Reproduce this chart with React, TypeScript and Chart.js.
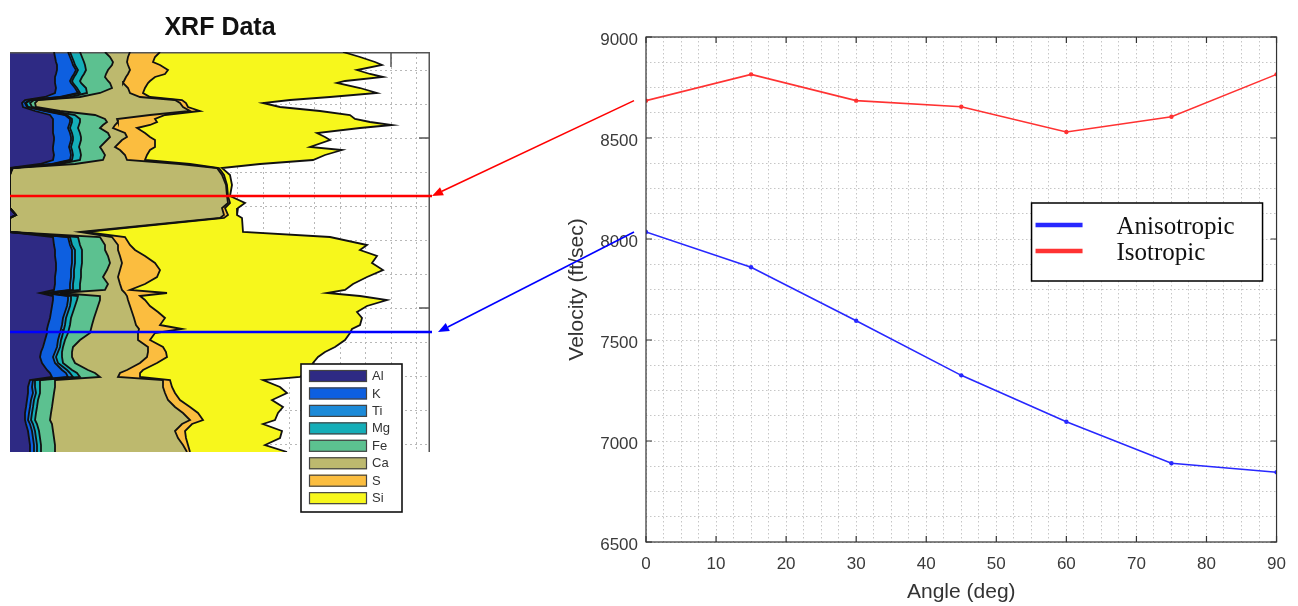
import React, { useEffect, useRef } from 'react';
import { Chart, registerables } from 'chart.js';

Chart.register(...registerables);
Chart.defaults.font.family = "'Liberation Sans', Arial, sans-serif";

// ---------------- XRF data (left panel) ----------------
// depth below top of log (arbitrary units, top = 0)
const depth = [
  0, 5, 10, 13, 18, 22, 25, 29, 31, 36,
  41, 45, 48, 51, 55, 59, 63, 67, 70, 73,
  76, 81, 85, 88, 95, 98, 103, 108, 112, 116,
  123, 133, 144, 151, 156, 163, 166, 180, 185, 193,
  198, 204, 211, 218, 225, 232, 238, 241, 244, 248,
  254, 260, 266, 273, 277, 281, 288, 295, 300, 305,
  311, 318, 321, 325, 328, 335, 341, 348, 355, 361,
  368, 372, 379, 386, 393, 400,
];
const alValues = [
  44, 45, 46, 47, 47, 46, 45, 45, 45, 46,
  45, 35, 15, 12, 13, 25, 40, 43, 43, 43,
  43, 43, 44, 44, 43, 43, 44, 43, 30, 0,
  0, 0, 0, 0, 0, 6, 0, 0, 43, 44,
  45, 45, 46, 46, 45, 45, 44, 30, 43, 43,
  42, 41, 40, 38, 37, 37, 35, 33, 31, 30,
  32, 37, 40, 42, 20, 18, 18, 17, 16, 15,
  15, 16, 18, 19, 20, 20,
];
const kValues = [
  14, 15, 16, 16, 19, 18, 17, 15, 16, 19,
  23, 15, 5, 3, 4, 10, 15, 17, 17, 16,
  15, 17, 17, 17, 16, 17, 17, 17, 12, 1,
  0, 0, 0, 0, 0, 0, 0, 0, 15, 16,
  17, 17, 16, 15, 16, 15, 16, 5, 15, 15,
  15, 14, 13, 14, 14, 13, 13, 14, 14, 13,
  13, 15, 16, 16, 3, 4, 5, 4, 4, 4,
  3, 4, 4, 4, 4, 4,
];
const tiValues = [
  2, 2, 2, 2, 2, 2, 2, 2, 2, 2,
  2, 2, 1, 1, 1, 2, 2, 2, 2, 2,
  2, 2, 2, 2, 2, 2, 2, 2, 2, 0,
  0, 0, 0, 0, 0, 0, 0, 0, 2, 2,
  3, 3, 3, 3, 3, 3, 3, 2, 3, 3,
  3, 3, 3, 3, 3, 3, 3, 3, 3, 3,
  3, 5, 4, 5, 2, 3, 3, 3, 3, 3,
  3, 3, 3, 3, 3, 3,
];
const mgValues = [
  10, 10, 10, 10, 8, 8, 8, 8, 8, 9,
  7, 8, 3, 4, 4, 5, 8, 8, 8, 8,
  8, 8, 8, 8, 8, 8, 8, 8, 6, 1,
  0, 0, 0, 0, 0, 0, 0, 0, 8, 8,
  7, 7, 7, 7, 7, 7, 7, 3, 7, 6,
  5, 5, 5, 5, 5, 5, 4, 3, 4, 6,
  5, 5, 7, 7, 5, 5, 4, 4, 4, 4,
  4, 4, 4, 4, 4, 4,
];
const feValues = [
  25, 28, 29, 27, 22, 22, 23, 28, 29, 26,
  13, 10, 4, 5, 4, 8, 20, 25, 27, 24,
  22, 28, 29, 26, 21, 22, 24, 23, 15, 1,
  0, 0, 0, 0, 0, 0, 0, 0, 22, 25,
  23, 26, 28, 26, 22, 28, 25, 10, 22, 23,
  23, 23, 23, 22, 22, 22, 15, 10, 10, 10,
  12, 16, 18, 20, 15, 15, 14, 15, 15, 15,
  15, 15, 14, 14, 14, 14,
];
const caValues = [
  25, 18, 14, 16, 22, 22, 21, 16, 13, 16,
  30, 60, 137, 145, 147, 130, 55, 12, 11, 12,
  13, 17, 17, 15, 15, 18, 20, 24, 105, 204,
  212, 216, 217, 218, 212, 208, 210, 70, 12, 13,
  13, 12, 12, 13, 15, 12, 17, 65, 27, 28,
  32, 36, 40, 44, 48, 48, 58, 75, 76, 75,
  65, 39, 25, 18, 108, 108, 111, 115, 123, 132,
  140, 130, 122, 124, 128, 132,
];
const sValues = [
  30, 27, 26, 32, 38, 37, 29, 26, 25, 17,
  13, 10, 7, 6, 5, 10, 15, 38, 39, 35,
  24, 20, 23, 33, 40, 30, 22, 18, 10, 2,
  2, 1, 1, 2, 3, 4, 4, 5, 13, 12,
  17, 25, 33, 40, 39, 25, 8, 42, 13, 17,
  20, 26, 31, 24, 43, 17, 12, 15, 18, 20,
  17, 16, 20, 22, 7, 9, 10, 12, 15, 15,
  13, 10, 10, 8, 5, 3,
];
const siValues = [
  183, 205, 222, 222, 189, 205, 228, 195, 189, 215,
  234, 180, 108, 77, 92, 120, 185, 200, 213, 242,
  223, 172, 175, 175, 155, 192, 178, 168, 70, 3,
  6, 5, 2, 15, 13, 9, 18, 158, 205, 237,
  225, 232, 217, 223, 210, 208, 215, 160, 220, 242,
  217, 199, 197, 200, 170, 195, 195, 172, 159, 151,
  156, 167, 165, 160, 93, 108, 112, 92, 93, 80,
  72, 71, 97, 94, 77, 97,
];
const elementNames = ['Al', 'K', 'Ti', 'Mg', 'Fe', 'Ca', 'S', 'Si'];
const elementColors = ['#2e2a84', '#0d5fe0', '#1c8ad8', '#14aeb8', '#5cc190', '#bdb96e', '#fbbd3f', '#f7f71c'];
const elementSeries = [alValues, kValues, tiValues, mgValues, feValues, caValues, sValues, siValues];

const xrfGridX = [228, 253.5, 279, 304.5, 330, 355.5, 381, 406.5];
const xrfGridDepth = [18, 52, 86, 120, 154, 188, 222, 256, 290, 324, 358, 392];
const xrfMajorDepth = [86, 256];
const xrfMajorX = [381];
const markerDepths = [144, 280];
const markerColors = ['#ff0000', '#0000ff'];

// ---------------- Velocity data (right panel) ----------------
const angles = [0, 15, 30, 45, 60, 75, 90];
const anisotropic = [8035, 7860, 7595, 7325, 7095, 6890, 6845];
const isotropic = [8685, 8815, 8685, 8655, 8530, 8605, 8815];
const angleTicks = [0, 10, 20, 30, 40, 50, 60, 70, 80, 90];
const velocityTicks = [6500, 7000, 7500, 8000, 8500, 9000];
const seriesNames = ['Anisotropic', 'Isotropic'];
const seriesColors = ['rgb(40,40,255)', 'rgb(255,50,50)'];

const RIGHT_LEFT = 560;

const xrfPlugin = {
  id: 'xrfDecor',
  beforeDatasetsDraw(chart: any) {
    const { ctx, chartArea: ca, scales } = chart;
    ctx.save();
    ctx.strokeStyle = '#555';
    ctx.lineWidth = 1.5;
    ctx.beginPath();
    ctx.moveTo(ca.left, ca.top + 0.75);
    ctx.lineTo(ca.right, ca.top + 0.75);
    ctx.moveTo(ca.right - 0.75, ca.top);
    ctx.lineTo(ca.right - 0.75, ca.bottom);
    for (const d of xrfMajorDepth) {
      const y = scales.y.getPixelForValue(d);
      ctx.moveTo(ca.right, y);
      ctx.lineTo(ca.right - 11, y);
    }
    for (const v of xrfMajorX) {
      const x = scales.x.getPixelForValue(v);
      ctx.moveTo(x, ca.top);
      ctx.lineTo(x, ca.top + 15);
    }
    ctx.stroke();
    ctx.restore();
  },
  afterDatasetsDraw(chart: any) {
    const { ctx, chartArea: ca, scales } = chart;
    ctx.save();
    markerDepths.forEach((d, i) => {
      const y = scales.y.getPixelForValue(d);
      ctx.strokeStyle = markerColors[i];
      ctx.lineWidth = 2.4;
      ctx.beginPath();
      ctx.moveTo(ca.left, y);
      ctx.lineTo(ca.right + 2, y);
      ctx.stroke();
    });
    ctx.restore();
  },
  afterDraw(chart: any) {
    const { ctx, chartArea: ca } = chart;
    const lx = ca.left + 291;
    const ly = ca.top + 312;
    const lw = 101;
    const lh = 148;
    ctx.save();
    ctx.fillStyle = '#fff';
    ctx.fillRect(lx, ly, lw, lh);
    ctx.strokeStyle = '#111';
    ctx.lineWidth = 1.6;
    ctx.strokeRect(lx, ly, lw, lh);
    chart.data.datasets.forEach((ds: any, i: number) => {
      const sy = ly + 6 + i * 17.45;
      ctx.fillStyle = ds.backgroundColor;
      ctx.fillRect(lx + 8, sy, 58, 12);
      ctx.strokeStyle = '#444';
      ctx.lineWidth = 1.2;
      ctx.strokeRect(lx + 8.5, sy + 0.5, 57, 11);
      ctx.fillStyle = '#333';
      ctx.font = "13px 'Liberation Sans', Arial, sans-serif";
      ctx.textBaseline = 'middle';
      ctx.textAlign = 'left';
      ctx.fillText(ds.label, lx + 71, sy + 6.5);
    });
    ctx.restore();
  },
};

const velocityPlugin = {
  id: 'velocityDecor',
  afterDatasetsDraw(chart: any) {
    const { ctx, chartArea: ca, scales } = chart;
    ctx.save();
    ctx.strokeStyle = '#333';
    ctx.lineWidth = 1.2;
    ctx.strokeRect(ca.left, ca.top, ca.right - ca.left, ca.bottom - ca.top);
    ctx.beginPath();
    for (const v of angleTicks) {
      const x = scales.x.getPixelForValue(v);
      ctx.moveTo(x, ca.bottom);
      ctx.lineTo(x, ca.bottom - 6);
      ctx.moveTo(x, ca.top);
      ctx.lineTo(x, ca.top + 6);
    }
    for (const v of velocityTicks) {
      const y = scales.y.getPixelForValue(v);
      ctx.moveTo(ca.left, y);
      ctx.lineTo(ca.left + 6, y);
      ctx.moveTo(ca.right, y);
      ctx.lineTo(ca.right - 6, y);
    }
    ctx.stroke();
    ctx.restore();
  },
  afterDraw(chart: any) {
    const { ctx, chartArea: ca } = chart;
    const bw = 231;
    const bh = 78;
    const bx = ca.right - 14 - bw;
    const by = ca.top + 166;
    ctx.save();
    ctx.fillStyle = '#fff';
    ctx.fillRect(bx, by, bw, bh);
    ctx.strokeStyle = '#000';
    ctx.lineWidth = 1.5;
    ctx.strokeRect(bx, by, bw, bh);
    chart.data.datasets.forEach((ds: any, i: number) => {
      const y = by + 22 + i * 26;
      ctx.strokeStyle = ds.borderColor;
      ctx.lineWidth = 4.5;
      ctx.beginPath();
      ctx.moveTo(bx + 4, y);
      ctx.lineTo(bx + 51, y);
      ctx.stroke();
      ctx.fillStyle = '#111';
      ctx.font = "25px 'Liberation Serif', 'Times New Roman', serif";
      ctx.textBaseline = 'alphabetic';
      ctx.textAlign = 'left';
      ctx.fillText(ds.label, bx + 85, y + 8.5);
    });
    ctx.restore();
  },
};

function makeXrfChart(canvas: HTMLCanvasElement) {
  return new Chart(canvas, {
    type: 'line',
    data: {
      datasets: elementNames.map((name, i) => ({
        label: name,
        data: depth.map((d, j) => ({ x: elementSeries[i][j], y: d })),
        backgroundColor: elementColors[i],
        borderColor: '#111',
        borderWidth: 1.8,
        pointRadius: 0,
        tension: 0,
        fill: i === 0 ? 'origin' : '-1',
      })),
    },
    options: {
      indexAxis: 'y',
      responsive: false,
      animation: false,
      events: [],
      layout: { padding: { left: 10, right: 15, top: 0, bottom: 68 } },
      plugins: {
        legend: { display: false },
        tooltip: { enabled: false },
        filler: { drawTime: 'beforeDatasetsDraw' },
        title: {
          display: true,
          text: 'XRF Data',
          color: '#111',
          font: { family: "'Liberation Sans', Arial, sans-serif", size: 25, weight: 'bold' },
          padding: { top: 13, bottom: 9 },
        },
      },
      scales: {
        x: {
          type: 'linear',
          stacked: true,
          min: 0,
          max: 420,
          ticks: { display: false },
          grid: { color: '#b8b8b8', lineWidth: 1, drawTicks: false },
          border: { display: false, dash: [2, 3] },
          afterBuildTicks: (s: any) => { s.ticks = xrfGridX.map((v) => ({ value: v })); },
          afterFit: (s: any) => { s.height = 0; },
        },
        y: {
          type: 'linear',
          reverse: true,
          min: 0,
          max: 400,
          ticks: { display: false },
          grid: { color: '#b8b8b8', lineWidth: 1, drawTicks: false },
          border: { display: false, dash: [2, 3] },
          afterBuildTicks: (s: any) => { s.ticks = xrfGridDepth.map((v) => ({ value: v })); },
          afterFit: (s: any) => { s.width = 0; },
        },
      },
    } as any,
    plugins: [xrfPlugin],
  });
}

function makeVelocityChart(canvas: HTMLCanvasElement) {
  const values = [anisotropic, isotropic];
  return new Chart(canvas, {
    type: 'line',
    data: {
      datasets: seriesNames.map((name, i) => ({
        label: name,
        data: angles.map((a, j) => ({ x: a, y: values[i][j] })),
        borderColor: seriesColors[i],
        backgroundColor: seriesColors[i],
        borderWidth: 1.6,
        pointRadius: 2.2,
        pointBorderWidth: 0,
        tension: 0,
        fill: false,
      })),
    },
    options: {
      responsive: false,
      animation: false,
      events: [],
      layout: { padding: { left: 0, right: 12, top: 37, bottom: 0 } },
      plugins: { legend: { display: false }, tooltip: { enabled: false } },
      scales: {
        x: {
          type: 'linear',
          min: 0,
          max: 90,
          ticks: {
            stepSize: 2.5,
            maxTicksLimit: 100,
            autoSkip: false,
            maxRotation: 0,
            padding: 12,
            color: '#3a3a3a',
            font: { size: 17 },
            callback: (v: any) => (angleTicks.includes(Number(v)) ? String(v) : ''),
          },
          grid: { color: '#c6c6c6', lineWidth: 1, drawTicks: false },
          border: { display: false, dash: [1.5, 2.5] },
          title: {
            display: true,
            text: 'Angle (deg)',
            color: '#333',
            font: { size: 21 },
            padding: { top: 0, bottom: 1 },
          },
          afterFit: (s: any) => { s.height = 64; },
        },
        y: {
          type: 'linear',
          min: 6500,
          max: 9000,
          ticks: {
            stepSize: 125,
            maxTicksLimit: 100,
            autoSkip: false,
            padding: 8,
            labelOffset: 3,
            color: '#3a3a3a',
            font: { size: 17 },
            callback: (v: any) => (velocityTicks.includes(Number(v)) ? String(v) : ''),
          },
          grid: { color: '#c6c6c6', lineWidth: 1, drawTicks: false },
          border: { display: false, dash: [1.5, 2.5] },
          title: {
            display: true,
            text: 'Velocity (ft/sec)',
            color: '#333',
            font: { size: 21 },
            padding: { top: 5, bottom: 0 },
          },
          afterFit: (s: any) => { s.width = 86; },
        },
      },
    } as any,
    plugins: [velocityPlugin],
  });
}

function drawArrows(canvas: HTMLCanvasElement, left: any, right: any) {
  const ctx = canvas.getContext('2d')!;
  ctx.clearRect(0, 0, canvas.width, canvas.height);
  const links = [
    { values: isotropic, depth: markerDepths[0], color: markerColors[0], gap: 2 },
    { values: anisotropic, depth: markerDepths[1], color: markerColors[1], gap: 8 },
  ];
  links.forEach((l) => {
    const sx = RIGHT_LEFT + right.scales.x.getPixelForValue(angles[0]) - 12;
    const sy = right.scales.y.getPixelForValue(l.values[0]);
    const ex = left.chartArea.right + l.gap;
    const ey = left.scales.y.getPixelForValue(l.depth);
    const ang = Math.atan2(ey - sy, ex - sx);
    const hl = 11;
    const hw = 4.5;
    const bx = ex - hl * Math.cos(ang);
    const by = ey - hl * Math.sin(ang);
    ctx.strokeStyle = l.color;
    ctx.fillStyle = l.color;
    ctx.lineWidth = 1.6;
    ctx.beginPath();
    ctx.moveTo(sx, sy);
    ctx.lineTo(bx, by);
    ctx.stroke();
    ctx.beginPath();
    ctx.moveTo(ex, ey);
    ctx.lineTo(bx + hw * Math.sin(ang), by - hw * Math.cos(ang));
    ctx.lineTo(bx - hw * Math.sin(ang), by + hw * Math.cos(ang));
    ctx.closePath();
    ctx.fill();
  });
}

export default function App() {
  const leftRef = useRef<HTMLCanvasElement>(null);
  const rightRef = useRef<HTMLCanvasElement>(null);
  const overlayRef = useRef<HTMLCanvasElement>(null);

  useEffect(() => {
    const left = makeXrfChart(leftRef.current!);
    const right = makeVelocityChart(rightRef.current!);
    drawArrows(overlayRef.current!, left, right);
    return () => {
      left.destroy();
      right.destroy();
    };
  }, []);

  return (
    <div style={{ position: 'fixed', left: 0, top: 0, width: 1298, height: 606, background: '#fff', overflow: 'hidden' }}>
      <canvas ref={leftRef} width={445} height={520} style={{ position: 'absolute', left: 0, top: 0, width: 445, height: 520 }} />
      <canvas ref={rightRef} width={738} height={606} style={{ position: 'absolute', left: RIGHT_LEFT, top: 0, width: 738, height: 606 }} />
      <canvas ref={overlayRef} width={1298} height={606} style={{ position: 'absolute', left: 0, top: 0, width: 1298, height: 606, pointerEvents: 'none' }} />
    </div>
  );
}
